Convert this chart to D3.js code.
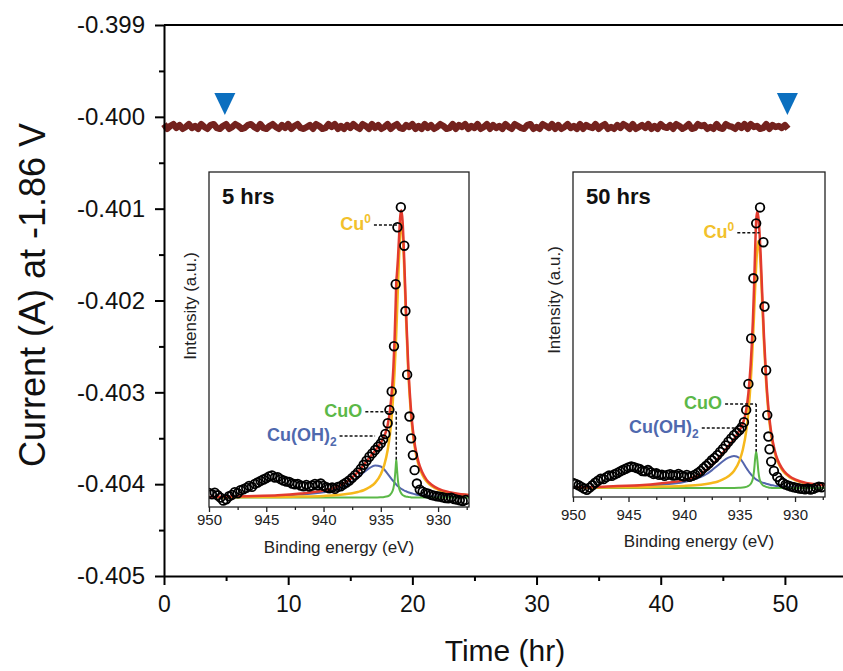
<!DOCTYPE html>
<html>
<head>
<meta charset="utf-8">
<script src="https://cdn.jsdelivr.net/npm/d3@7"></script>
<style>
  body { margin: 0; background: #fff; }
  svg { display: block; font-family: "Liberation Sans", Arial, sans-serif; }
</style>
</head>
<body>
<div id="chart"></div>
<script>
// chronoamperometry at -1.86 V, one sample every 0.25 hr
const timeStepHr = 0.25
const currentA = [
  -0.40008, -0.40013, -0.40010, -0.40008, -0.40012, -0.40009, -0.40013, -0.40011, -0.40008, -0.40012, -0.40010, -0.40013, -0.40008, -0.40011, -0.40013, -0.40009, -0.40008, -0.40012, -0.40013, -0.40010,
  -0.40008, -0.40013, -0.40011, -0.40008, -0.40010, -0.40013, -0.40012, -0.40009, -0.40008, -0.40011, -0.40013, -0.40008, -0.40012, -0.40013, -0.40010, -0.40008, -0.40011, -0.40013, -0.40009, -0.40012,
  -0.40008, -0.40013, -0.40010, -0.40008, -0.40012, -0.40013, -0.40011, -0.40009, -0.40013, -0.40008, -0.40010, -0.40013, -0.40012, -0.40008, -0.40011, -0.40008, -0.40013, -0.40010, -0.40013, -0.40009,
  -0.40012, -0.40008, -0.40011, -0.40013, -0.40008, -0.40010, -0.40013, -0.40008, -0.40012, -0.40009, -0.40013, -0.40011, -0.40008, -0.40013, -0.40010, -0.40008, -0.40012, -0.40013, -0.40009, -0.40011,
  -0.40008, -0.40013, -0.40010, -0.40013, -0.40008, -0.40012, -0.40009, -0.40013, -0.40011, -0.40008, -0.40010, -0.40013, -0.40012, -0.40008, -0.40013, -0.40009, -0.40011, -0.40008, -0.40013, -0.40010,
  -0.40012, -0.40008, -0.40013, -0.40011, -0.40008, -0.40013, -0.40009, -0.40012, -0.40010, -0.40013, -0.40008, -0.40011, -0.40013, -0.40008, -0.40010, -0.40012, -0.40013, -0.40009, -0.40008, -0.40013,
  -0.40011, -0.40013, -0.40008, -0.40010, -0.40012, -0.40008, -0.40013, -0.40009, -0.40013, -0.40011, -0.40008, -0.40012, -0.40010, -0.40013, -0.40008, -0.40013, -0.40009, -0.40011, -0.40012, -0.40008,
  -0.40013, -0.40010, -0.40008, -0.40013, -0.40011, -0.40013, -0.40009, -0.40012, -0.40008, -0.40010, -0.40013, -0.40008, -0.40013, -0.40011, -0.40009, -0.40012, -0.40008, -0.40013, -0.40010, -0.40013,
  -0.40008, -0.40011, -0.40012, -0.40009, -0.40013, -0.40008, -0.40010, -0.40013, -0.40011, -0.40008, -0.40013, -0.40012, -0.40008, -0.40010, -0.40009, -0.40013, -0.40011, -0.40013, -0.40008, -0.40012,
  -0.40013, -0.40008, -0.40010, -0.40011, -0.40013, -0.40009, -0.40012, -0.40008, -0.40013, -0.40008, -0.40011, -0.40010, -0.40013, -0.40012, -0.40008, -0.40013, -0.40009, -0.40011, -0.40010, -0.40012,
  -0.40009, -0.40013
]
const markerHours = [4.9, 50.2]   // blue triangles: when the XPS spectra were taken
const markerLevel = -0.39998

const xTicks = [0, 10, 20, 30, 40, 50]
const xMinorTicks = [5, 15, 25, 35, 45, 55]
const yTicks = [-0.405, -0.404, -0.403, -0.402, -0.401, -0.400, -0.399]
const yMinorTicks = [-0.4045, -0.4035, -0.4025, -0.4015, -0.4005, -0.3995]

// XPS Cu 2p3/2 insets, intensity in arbitrary units (0-100 of the inset height)
const bindingTicks = [950, 945, 940, 935, 930]
const bindingMinorTicks = [947.5, 942.5, 937.5, 932.5, 927.5]

const xpsEnergy5h = [950.0, 949.75, 949.5, 949.25, 949.0, 948.75, 948.5, 948.25, 948.0, 947.75, 947.5, 947.25, 947.0, 946.75, 946.5, 946.25, 946.0, 945.75, 945.5, 945.25,
  945.0, 944.75, 944.5, 944.25, 944.0, 943.75, 943.5, 943.25, 943.0, 942.75, 942.5, 942.25, 942.0, 941.75, 941.5, 941.25, 941.0, 940.75, 940.5, 940.25,
  940.0, 939.75, 939.5, 939.25, 939.0, 938.75, 938.5, 938.25, 938.0, 937.75, 937.5, 937.25, 937.0, 936.75, 936.5, 936.25, 936.0, 935.75, 935.5, 935.25,
  935.0, 934.8, 934.6, 934.4, 934.25, 934.05, 933.85, 933.7, 933.55, 933.25, 932.95, 932.85, 932.7, 932.5, 932.35, 932.2, 932.05, 931.85, 931.6, 931.35,
  931.1, 930.85, 930.6, 930.35, 930.1, 929.85, 929.6, 929.35, 929.1, 928.85, 928.6, 928.35, 928.1, 927.85, 927.6]
const xpsCounts5h = [4.2, 3.8, 4.3, 3.5, 2.8, 1.9, 2.3, 3.2, 3.6, 4.4, 4.1, 5.0, 5.3, 5.7, 6.3, 6.0, 6.9, 7.3, 7.8, 8.2,
  8.6, 9.1, 9.4, 8.8, 8.9, 8.3, 7.9, 7.6, 7.5, 7.0, 6.8, 6.9, 6.4, 6.2, 6.6, 6.1, 6.4, 6.9, 6.5, 7.0,
  6.3, 5.9, 5.6, 5.8, 5.4, 6.0, 6.2, 6.8, 7.3, 7.9, 8.7, 9.5, 10.3, 11.4, 12.6, 13.8, 15.0, 16.0, 17.0, 18.0,
  19.0, 20.2, 21.8, 25.0, 29.0, 34.5, 48.0, 66.5, 83.5, 89.5, 78.0, 58.5, 39.5, 27.0, 20.5, 15.5, 11.0, 7.0, 5.2, 4.6,
  4.2, 4.0, 3.6, 3.4, 3.2, 3.1, 2.9, 2.7, 2.6, 2.8, 2.4, 2.2, 2.0, 1.8, 2.1]

const xpsEnergy50h = [950.0, 949.75, 949.5, 949.25, 949.0, 948.75, 948.5, 948.25, 948.0, 947.75, 947.5, 947.25, 947.0, 946.75, 946.5, 946.25, 946.0, 945.75, 945.5, 945.25,
  945.0, 944.75, 944.5, 944.25, 944.0, 943.75, 943.5, 943.25, 943.0, 942.75, 942.5, 942.25, 942.0, 941.75, 941.5, 941.25, 941.0, 940.75, 940.5, 940.25,
  940.0, 939.75, 939.5, 939.25, 939.0, 938.75, 938.5, 938.25, 938.0, 937.75, 937.5, 937.25, 937.0, 936.75, 936.5, 936.25, 936.0, 935.75, 935.5, 935.25,
  935.0, 934.8, 934.6, 934.4, 934.2, 933.95, 933.75, 933.5, 933.15, 932.85, 932.75, 932.6, 932.5, 932.4, 932.3, 932.15, 931.9, 931.6, 931.35, 931.1,
  930.85, 930.6, 930.35, 930.1, 929.85, 929.6, 929.35, 929.1, 928.85, 928.6, 928.35, 928.1, 927.85, 927.6]
const xpsCounts50h = [4.3, 4.0, 3.6, 3.1, 2.6, 2.2, 2.9, 3.6, 4.4, 5.0, 5.6, 5.5, 6.1, 6.6, 6.5, 7.0, 7.4, 7.9, 8.3, 8.7,
  9.1, 9.4, 9.2, 8.9, 8.6, 8.0, 7.9, 8.3, 7.6, 7.1, 7.3, 6.8, 6.9, 6.5, 6.8, 7.0, 6.6, 6.7, 7.1, 6.6,
  6.3, 6.8, 6.2, 6.5, 6.9, 7.4, 8.0, 8.9, 9.6, 10.4, 11.3, 12.0, 12.9, 13.9, 14.8, 15.9, 17.0, 18.0, 19.0, 19.8,
  20.6, 21.5, 23.0, 26.8, 34.8, 48.8, 67.3, 84.2, 89.1, 78.4, 58.6, 39.0, 25.2, 18.6, 14.7, 10.9, 8.0, 6.2, 5.0, 4.3,
  3.8, 3.5, 3.2, 3.0, 2.8, 2.6, 2.5, 2.4, 2.6, 2.3, 2.5, 2.9, 3.2, 3.0]

// fitted components, sampled on one energy grid
const fitEnergy = [950, 948, 946, 944, 942, 940, 939, 938, 937.5, 937, 936.5, 936, 935.5, 935, 934.7, 934.4, 934.2, 934.0, 933.9, 933.8, 933.7, 933.65,
  933.6, 933.5, 933.4, 933.3, 933.2, 933.1, 933.0, 932.9, 932.8, 932.6, 932.4, 932.2, 932.0, 931.7, 931.4, 931.0, 930.5, 930, 929, 928, 927.3]

const cu0Fit5h = [2.9, 2.9, 3.0, 3.0, 3.1, 3.3, 3.5, 3.9, 4.1, 4.5, 5.0, 5.9, 7.2, 9.8, 12.5, 17.0, 21.8, 29.1, 34.1, 40.2, 47.7, 51.9,
  56.4, 66.0, 75.2, 82.2, 84.8, 82.2, 75.2, 66.0, 56.4, 40.2, 29.1, 21.8, 17.0, 12.5, 9.8, 7.6, 6.1, 5.2, 4.2, 3.7, 3.5]
const cuoFit5h = [2.8, 2.8, 2.8, 2.8, 2.8, 2.8, 2.8, 2.8, 2.8, 2.8, 2.8, 2.8, 2.8, 2.9, 3.0, 3.2, 3.6, 4.6, 5.6, 7.8, 12.0, 14.2,
  12.0, 7.8, 5.6, 4.6, 4.0, 3.6, 3.4, 3.2, 3.1, 3.0, 2.9, 2.8, 2.8, 2.8, 2.8, 2.8, 2.8, 2.8, 2.8, 2.8, 2.8]
const cuohFit5h = [2.9, 3.0, 3.1, 3.3, 3.7, 4.4, 5.1, 6.4, 7.5, 8.8, 10.3, 11.6, 12.4, 12.1, 11.2, 9.9, 9.0, 8.1, 7.7, 7.3, 6.9, 6.7,
  6.5, 6.2, 5.9, 5.6, 5.4, 5.2, 5.0, 4.8, 4.7, 4.4, 4.2, 4.0, 3.8, 3.6, 3.5, 3.3, 3.2, 3.1, 3.0, 2.9, 2.9]
const envelope5h = [3.0, 3.1, 3.3, 3.5, 4.0, 4.9, 5.8, 7.5, 8.8, 10.5, 12.5, 14.7, 16.8, 19.2, 21.1, 24.5, 28.8, 36.2, 41.8, 49.7, 61.0, 67.2,
  69.3, 74.4, 81.1, 86.8, 88.6, 85.4, 78.0, 68.4, 58.6, 42.0, 30.6, 23.0, 18.0, 13.3, 10.5, 8.1, 6.5, 5.5, 4.4, 3.8, 3.6]

const cu0Fit50h = [2.9, 2.9, 3.0, 3.0, 3.2, 3.4, 3.6, 4.0, 4.3, 4.7, 5.4, 6.4, 8.0, 11.2, 14.6, 20.2, 26.2, 35.0, 40.8, 47.6, 55.4, 59.5,
  63.6, 71.2, 76.7, 78.8, 76.7, 71.2, 63.6, 55.4, 47.6, 35.0, 26.2, 20.2, 16.2, 12.1, 9.7, 7.6, 6.1, 5.2, 4.2, 3.8, 3.6]
const cuoFit50h = [2.8, 2.8, 2.8, 2.8, 2.8, 2.8, 2.8, 2.8, 2.8, 2.8, 2.8, 2.8, 2.8, 2.85, 2.9, 3.1, 3.4, 4.0, 4.6, 5.6, 7.8, 9.6,
  11.6, 14.0, 11.6, 7.8, 5.6, 4.6, 4.0, 3.6, 3.4, 3.1, 2.95, 2.85, 2.8, 2.8, 2.8, 2.8, 2.8, 2.8, 2.8, 2.8, 2.8]
const cuohFit50h = [2.9, 3.0, 3.2, 3.4, 3.8, 4.6, 5.5, 7.0, 8.2, 9.6, 11.0, 12.1, 12.6, 12.0, 10.7, 9.0, 8.0, 7.1, 6.7, 6.3, 6.0, 5.8,
  5.7, 5.4, 5.2, 5.0, 4.8, 4.7, 4.5, 4.4, 4.3, 4.1, 3.9, 3.7, 3.6, 3.4, 3.3, 3.2, 3.1, 3.0, 2.9, 2.9, 2.8]
const envelope50h = [3.0, 3.1, 3.4, 3.6, 4.2, 5.2, 6.3, 8.2, 9.7, 11.5, 13.6, 15.7, 17.8, 20.5, 22.6, 26.7, 32.0, 40.5, 46.5, 53.9, 63.6, 69.3,
  75.3, 85.0, 87.9, 86.0, 81.5, 74.9, 66.5, 57.8, 49.7, 36.6, 27.5, 21.2, 17.0, 12.7, 10.2, 8.0, 6.4, 5.4, 4.3, 3.9, 3.6]

// peak labels: dotted leader at intensity lineI from energy fromE to toE, optional drop to dropI
const labels5h = [
  { name: 'Cu', sup: '0', color: '#f2c12c', lineI: 84.2, fromE: 935.6, toE: 933.45 },
  { name: 'CuO', color: '#5bb848', lineI: 28.4, fromE: 936.35, toE: 933.65, dropI: 14.2 },
  { name: 'Cu(OH)', sub: '2', color: '#4f69ae', lineI: 21.2, fromE: 938.6, toE: 935.5 }
]
const labels50h = [
  { name: 'Cu', sup: '0', color: '#f2c12c', lineI: 81.3, fromE: 935.2, toE: 933.2 },
  { name: 'CuO', color: '#5bb848', lineI: 28.6, fromE: 936.3, toE: 933.5, dropI: 14.0 },
  { name: 'Cu(OH)', sub: '2', color: '#4f69ae', lineI: 21.2, fromE: 938.4, toE: 935.4 }
]

const width = 843
const height = 671

const svg = d3.select('#chart').append('svg')
  .attr('width', width)
  .attr('height', height)

const x = d3.scaleLinear().domain([0, 55]).range([164, 847])
const y = d3.scaleLinear().domain([-0.405, -0.399]).range([576, 25])

// trace
const trace = currentA.map((v, i) => [i * timeStepHr, v])
svg.append('path')
  .datum(trace)
  .attr('fill', 'none')
  .attr('stroke', '#74221e')
  .attr('stroke-width', 6.5)
  .attr('stroke-linejoin', 'round')
  .attr('d', d3.line().x(d => x(d[0])).y(d => y(d[1])))

svg.selectAll('.marker')
  .data(markerHours)
  .join('path')
    .attr('class', 'marker')
    .attr('d', 'M-10.5,-22L10.5,-22L0,0Z')
    .attr('transform', d => `translate(${x(d)},${y(markerLevel)})`)
    .attr('fill', '#0b6fbf')

// main axes
function styleAxis(g, fontSize) {
  g.select('.domain').attr('stroke', '#000').attr('stroke-width', 2)
  g.selectAll('.tick line').attr('stroke', '#000').attr('stroke-width', 2)
  g.selectAll('.tick text').attr('fill', '#111').style('font-size', fontSize + 'px')
}

const gx = svg.append('g')
  .attr('transform', `translate(0,${y(-0.405)})`)
  .call(d3.axisBottom(x).tickValues(xTicks).tickSize(9).tickPadding(11).tickSizeOuter(0))
styleAxis(gx, 23)
svg.append('g')
  .attr('transform', `translate(0,${y(-0.405)})`)
  .call(d3.axisBottom(x).tickValues(xMinorTicks).tickSize(5).tickFormat(''))
  .call(g => g.select('.domain').remove())
  .call(g => g.selectAll('line').attr('stroke-width', 2))

const gy = svg.append('g')
  .attr('transform', `translate(${x(0)},0)`)
  .call(d3.axisLeft(y).tickValues(yTicks).tickFormat(d => d.toFixed(3)).tickSize(9).tickPadding(10).tickSizeOuter(0))
styleAxis(gy, 24)
svg.append('g')
  .attr('transform', `translate(${x(0)},0)`)
  .call(d3.axisLeft(y).tickValues(yMinorTicks).tickSize(5).tickFormat(''))
  .call(g => g.select('.domain').remove())
  .call(g => g.selectAll('line').attr('stroke-width', 2))

svg.append('line')
  .attr('x1', x(0)).attr('x2', x(55))
  .attr('y1', y(-0.399)).attr('y2', y(-0.399))
  .attr('stroke', '#000').attr('stroke-width', 2)

svg.append('text')
  .attr('x', 505).attr('y', 661)
  .attr('text-anchor', 'middle')
  .style('font-size', '30px')
  .attr('fill', '#111')
  .text('Time (hr)')

svg.append('text')
  .attr('transform', 'translate(45,295) rotate(-90)')
  .attr('text-anchor', 'middle')
  .style('font-size', '36px')
  .attr('fill', '#111')
  .text('Current (A) at -1.86 V')

// insets
const fitColors = ['#5465ad', '#5bb848', '#f6b81c', '#e33b2e']
const fitWidths = [2, 2, 2.5, 2.5]

const insets = [
  { id: 'a', title: '5 hrs', left: 209, right: 469, top: 172, bottom: 507, tickGap: 18, titleGap: 46, yLabelMid: 306,
    energy: xpsEnergy5h, counts: xpsCounts5h, fits: [cuohFit5h, cuoFit5h, cu0Fit5h, envelope5h], labels: labels5h },
  { id: 'b', title: '50 hrs', left: 573, right: 825, top: 172, bottom: 497, tickGap: 23, titleGap: 50, yLabelMid: 300,
    energy: xpsEnergy50h, counts: xpsCounts50h, fits: [cuohFit50h, cuoFit50h, cu0Fit50h, envelope50h], labels: labels50h }
]

insets.forEach(inset => {
  const ex = d3.scaleLinear().domain([950, 927.3]).range([inset.left, inset.right])
  const ey = d3.scaleLinear().domain([0, 100]).range([inset.bottom, inset.top])
  const w = inset.right - inset.left
  const h = inset.bottom - inset.top

  const g = svg.append('g')
  g.append('rect')
    .attr('x', inset.left).attr('y', inset.top)
    .attr('width', w).attr('height', h)
    .attr('fill', '#fff')

  g.append('clipPath').attr('id', 'clip-' + inset.id)
    .append('rect')
      .attr('x', inset.left).attr('y', inset.top)
      .attr('width', w).attr('height', h)

  const plot = g.append('g').attr('clip-path', `url(#clip-${inset.id})`)

  const fitLine = d3.line()
    .x((d, i) => ex(fitEnergy[i]))
    .y(d => ey(d))
    .curve(d3.curveMonotoneX)

  plot.selectAll('.fit')
    .data(inset.fits)
    .join('path')
      .attr('class', 'fit')
      .attr('fill', 'none')
      .attr('stroke', (d, i) => fitColors[i])
      .attr('stroke-width', (d, i) => fitWidths[i])
      .attr('d', fitLine)

  plot.selectAll('circle')
    .data(inset.energy)
    .join('circle')
      .attr('cx', d => ex(d))
      .attr('cy', (d, i) => ey(inset.counts[i]))
      .attr('r', 4.3)
      .attr('fill', 'none')
      .attr('stroke', '#000')
      .attr('stroke-width', 1.8)

  g.append('rect')
    .attr('x', inset.left).attr('y', inset.top)
    .attr('width', w).attr('height', h)
    .attr('fill', 'none')
    .attr('stroke', '#222')
    .attr('stroke-width', 1.3)

  // bottom axis
  const ax = g.append('g')
    .attr('transform', `translate(0,${inset.bottom})`)
    .call(d3.axisBottom(ex).tickValues(bindingTicks).tickFormat(d3.format('d')).tickSize(5).tickPadding(inset.tickGap - 16).tickSizeOuter(0))
  ax.select('.domain').remove()
  ax.selectAll('.tick line').attr('stroke', '#222').attr('stroke-width', 1.3)
  ax.selectAll('.tick text').attr('fill', '#222').style('font-size', '15px')
  g.append('g')
    .attr('transform', `translate(0,${inset.bottom})`)
    .call(d3.axisBottom(ex).tickValues(bindingMinorTicks).tickSize(3).tickFormat(''))
    .call(s => s.select('.domain').remove())
    .call(s => s.selectAll('line').attr('stroke', '#222').attr('stroke-width', 1.3))

  g.append('text')
    .attr('x', (inset.left + inset.right) / 2)
    .attr('y', inset.bottom + inset.titleGap)
    .attr('text-anchor', 'middle')
    .style('font-size', '17px')
    .attr('fill', '#222')
    .text('Binding energy (eV)')

  g.append('text')
    .attr('transform', `translate(${inset.left - 13},${inset.yLabelMid}) rotate(-90)`)
    .attr('text-anchor', 'middle')
    .style('font-size', '17px')
    .attr('fill', '#222')
    .text('Intensity (a.u.)')

  g.append('text')
    .attr('x', inset.left + 13)
    .attr('y', inset.top + 32)
    .style('font-size', '22px')
    .style('font-weight', 'bold')
    .attr('fill', '#111')
    .text(inset.title)

  // peak labels with dotted leaders
  inset.labels.forEach(lab => {
    const ly = ey(lab.lineI)
    g.append('line')
      .attr('x1', ex(lab.fromE)).attr('x2', ex(lab.toE))
      .attr('y1', ly).attr('y2', ly)
      .attr('stroke', '#111').attr('stroke-width', 1.5)
      .attr('stroke-dasharray', '3,2')
    if (lab.dropI != null) {
      g.append('line')
        .attr('x1', ex(lab.toE)).attr('x2', ex(lab.toE))
        .attr('y1', ly).attr('y2', ey(lab.dropI))
        .attr('stroke', '#111').attr('stroke-width', 1.5)
        .attr('stroke-dasharray', '3,2')
    }
    const t = g.append('text')
      .attr('x', ex(lab.fromE) - 3)
      .attr('y', ly + 5)
      .attr('text-anchor', 'end')
      .style('font-size', '18px')
      .style('font-weight', 'bold')
      .attr('fill', lab.color)
    t.append('tspan').text(lab.name)
    if (lab.sup) t.append('tspan').attr('dy', -7).style('font-size', '12px').text(lab.sup)
    if (lab.sub) t.append('tspan').attr('dy', 5).style('font-size', '12px').text(lab.sub)
  })
})
</script>
</body>
</html>
